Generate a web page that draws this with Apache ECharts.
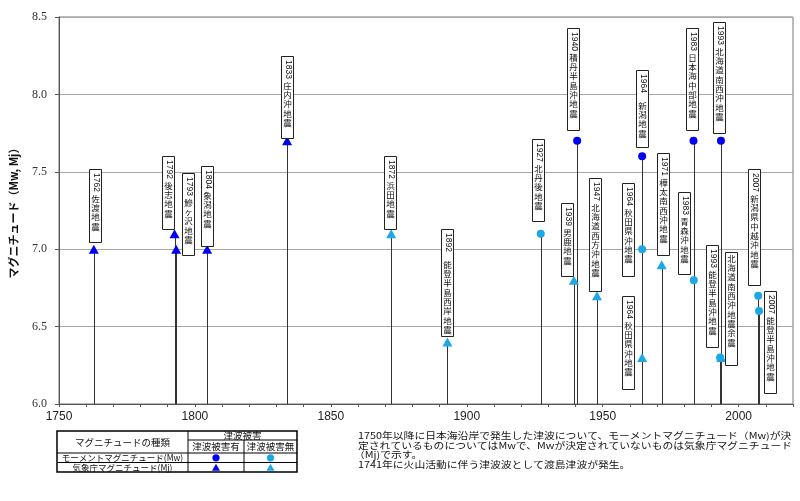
<!DOCTYPE html>
<html>
<head>
    <meta charset="utf-8">
    <title>日本海沿岸の津波とマグニチュード</title>
    <script src="https://cdn.jsdelivr.net/npm/echarts@6/dist/echarts.min.js"></script>
    <style>
        html, body {
            margin: 0;
            padding: 0;
            background: #fff;
        }

        #main {
            width: 800px;
            height: 501px;
        }
    </style>
</head>
<body>
<div id="main"></div>
<script type="text/javascript">
    // 発生年（発生日を年の小数で）
    const years = [1762.8, 1792.5, 1793.1, 1804.5, 1833.9, 1872.2, 1892.9, 1927.2, 1939.4, 1940.6, 1947.9,
        1964.5, 1964.5, 1964.5, 1971.7, 1983.4, 1983.5, 1993.5, 1993.2, 1993.6, 2007.5, 2007.2];
    // マグニチュード
    const mags = [7.0, 7.1, 7.0, 7.0, 7.7, 7.1, 6.4, 7.1, 6.8, 7.7, 6.7,
        7.6, 7.0, 6.3, 6.9, 7.7, 6.8, 7.7, 6.3, 6.3, 6.6, 6.7];
    // マグニチュードの種類
    const magType = ['Mj', 'Mj', 'Mj', 'Mj', 'Mj', 'Mj', 'Mj', 'Mw', 'Mj', 'Mw', 'Mj',
        'Mw', 'Mw', 'Mj', 'Mj', 'Mw', 'Mw', 'Mw', 'Mw', 'Mj', 'Mw', 'Mw'];
    // 津波被害 1:有 0:無
    const damage = [1, 1, 1, 1, 1, 0, 0, 0, 0, 1, 0,
        1, 0, 0, 0, 1, 0, 1, 0, 0, 0, 0];
    const names = ['1762 佐渡地震', '1792 後志地震', '1793 鰺ヶ沢地震', '1804 象潟地震', '1833 庄内沖地震',
        '1872 浜田地震', '1892能登半島西岸地震', '1927 北丹後地震', '1939 男鹿地震', '1940 積丹半島沖地震',
        '1947 北海道西方沖地震', '1964　新潟地震', '1964 秋田県沖地震', '1964 秋田県沖地震', '1971 樺太南西沖地震',
        '1983 日本海中部地震', '1983 青森沖地震', '1993 北海道南西沖地震', '1993 能登半島沖地震', '北海道南西沖地震余震',
        '2007 新潟県中越沖地震', '2007 能登半島沖地震'];

    // ラベル枠の置き場所（横ずれpx、枠の上端・下端はマグニチュード目盛で）
    const labelDx = [1, -7, 12, 0, 0, -1, 0, -3, -7, -4, -2, 0, -14, -14, 1, -2, -10, -2, -8, 10, -5, 12];
    const labelTop = [7.52, 7.60, 7.49, 7.54, 8.25, 7.60, 7.13, 7.71, 7.30, 8.43, 7.46,
        8.16, 7.43, 6.70, 7.62, 8.43, 7.37, 8.47, 7.03, 6.98, 7.52, 6.73];
    const labelBottom = [7.05, 7.13, 6.96, 7.02, 7.72, 7.13, 6.44, 7.18, 6.83, 7.77, 6.73,
        7.66, 6.83, 6.10, 6.96, 7.77, 6.84, 7.75, 6.37, 6.25, 6.77, 6.07];

    const DARK = '#0000f2';
    const LIGHT = '#1ca7e8';
    const JP = "'Noto Sans CJK JP', sans-serif";

    const myChart = echarts.init(document.getElementById('main'));

    const items = years.map((y, i) => [y, mags[i], i]);

    function pick(type, dmg) {
        return items.filter(d => magType[d[2]] === type && damage[d[2]] === dmg).map(d => [d[0], d[1]]);
    }

    function txt(text, x, y, size, opts) {
        return Object.assign({
            type: 'text', x: x, y: y,
            style: {
                text: text, fontSize: size, fontFamily: JP, fill: '#111',
                align: 'center', textAlign: 'center', verticalAlign: 'middle', textVerticalAlign: 'middle'
            }
        }, opts || {});
    }

    function renderStem(params, api) {
        const p = api.coord([api.value(0), api.value(1)]);
        const b = api.coord([api.value(0), 6.0]);
        const x = Math.round(p[0]) + 0.5;
        return {
            type: 'line',
            shape: {x1: x, y1: p[1], x2: x, y2: b[1]},
            style: {stroke: '#333', lineWidth: 1}
        };
    }

    function renderLabel(params, api) {
        const i = api.value(2);
        const p = api.coord([api.value(0), labelTop[i]]);
        const b = api.coord([api.value(0), labelBottom[i]]);
        const cx = Math.round(p[0] + labelDx[i]);
        const top = Math.round(p[1]);
        const w = 12;
        const children = [{
            type: 'rect',
            shape: {x: cx - w / 2 + 0.5, y: top + 0.5, width: w, height: Math.round(b[1] - p[1])},
            style: {fill: '#fff', stroke: '#222', lineWidth: 1}
        }];
        const m = names[i].match(/^(\d{4})([ 　]?)(.*)$/);
        let text = names[i];
        let start = top + 2;
        if (m) {
            children.push({
                type: 'text', x: cx + 1, y: top + 4, rotation: -Math.PI / 2,
                style: {
                    text: m[1], fontSize: 8.5, fontFamily: "'Liberation Sans', Arial", fill: '#111',
                    align: 'left', textAlign: 'left', verticalAlign: 'middle', textVerticalAlign: 'middle'
                }
            });
            text = m[3];
            start = top + (m[2] === ' ' ? 25 : 31);
        }
        // 一字ずつ縦に並べる
        text.split('').forEach((ch, k) => {
            children.push({
                type: 'text', x: cx + 0.5, y: start + k * 9.3 + 4.6,
                style: {
                    text: ch, fontSize: 8.5, fontFamily: JP, fill: '#111',
                    align: 'center', textAlign: 'center', verticalAlign: 'middle', textVerticalAlign: 'middle'
                }
            });
        });
        return {type: 'group', children: children};
    }

    // 凡例の表
    const T = 431, HM = 440, H = 453, R1 = 462.5, B = 472, L = 57, C1 = 188, C2 = 244, R = 297;
    const ln = (x1, y1, x2, y2, w) => ({
        type: 'line', shape: {x1: x1, y1: y1, x2: x2, y2: y2}, style: {stroke: '#000', lineWidth: w || 1}
    });
    const tri = (x, y, c) => ({
        type: 'polygon', shape: {points: [[x - 4, y + 3.5], [x + 4, y + 3.5], [x, y - 3.5]]}, style: {fill: c}
    });
    const dot = (x, y, c) => ({type: 'circle', shape: {cx: x, cy: y, r: 3.6}, style: {fill: c}});

    const notes = [
        ['1750年以降に日本海沿岸で発生した津波について、モーメントマグニチュード（Mw)が決', 358, 435.7],
        ['定されているものについてはMwで、Mwが決定されていないものは気象庁マグニチュード', 358, 445.7],
        ['（Mj)で示す。', 354, 454.8],
        ['1741年に火山活動に伴う津波波として渡島津波が発生。', 358, 464.5]
    ];

    const graphics = [
        {type: 'rect', shape: {x: L, y: T, width: R - L, height: B - T}, style: {fill: 'none', stroke: '#000', lineWidth: 1.5}},
        ln(C1, T, C1, B), ln(C2, HM, C2, B), ln(C1, HM, R, HM), ln(L, H, R, H, 1.2), ln(L, R1, R, R1),
        txt('マグニチュードの種類', (L + C1) / 2, 442, 9.5),
        txt('津波被害', (C1 + R) / 2, 435.7, 9.5),
        txt('津波被害有', (C1 + C2) / 2, 446.8, 9.5),
        txt('津波被害無', (C2 + R) / 2, 446.8, 9.5),
        txt('モーメントマグニチュード(Mw)', (L + C1) / 2, 457.8, 8.5),
        txt('気象庁マグニチュード(Mj)', (L + C1) / 2, 467.3, 8.5),
        dot((C1 + C2) / 2, 457.8, DARK), dot((C2 + R) / 2, 457.8, LIGHT),
        tri((C1 + C2) / 2, 467.3, DARK), tri((C2 + R) / 2, 467.3, LIGHT)
    ];
    notes.forEach(n => {
        graphics.push({
            type: 'text', x: n[1], y: n[2], scaleX: 1.2,
            style: {
                text: n[0], fontSize: 9, fontFamily: JP, fill: '#111',
                align: 'left', textAlign: 'left', verticalAlign: 'middle', textVerticalAlign: 'middle'
            }
        });
    });

    const option = {
        animation: false,
        backgroundColor: '#fff',
        grid: {
            left: 56, right: 7, top: 17, bottom: 97,
            show: true, borderColor: '#777', borderWidth: 1
        },
        xAxis: {
            type: 'value',
            min: 1750, max: 2020, interval: 50,
            axisLine: {lineStyle: {color: '#555'}},
            axisTick: {show: true, length: 3, lineStyle: {color: '#555'}},
            minorTick: {show: true, splitNumber: 5, length: 3, lineStyle: {color: '#555'}},
            splitLine: {show: false},
            axisLabel: {
                margin: 7, fontSize: 12, color: '#222', fontFamily: "'Liberation Sans', Arial",
                showMaxLabel: false,
                formatter: v => String(v)
            }
        },
        yAxis: {
            type: 'value',
            min: 6.0, max: 8.5, interval: 0.5,
            name: 'マグニチュード（Mw, Mj）',
            nameLocation: 'middle',
            nameGap: 40,
            nameTextStyle: {fontSize: 11, fontWeight: 'bold', color: '#111', fontFamily: JP},
            axisLine: {show: true, lineStyle: {color: '#555'}},
            axisTick: {show: true, length: 4, lineStyle: {color: '#555'}},
            splitLine: {show: true, lineStyle: {color: '#a8a8a8'}},
            axisLabel: {
                margin: 12, fontSize: 12, color: '#333', fontFamily: "'Liberation Serif', serif",
                formatter: v => v.toFixed(1)
            }
        },
        series: [
            {
                type: 'custom', name: 'stem', renderItem: renderStem, data: items,
                encode: {x: 0, y: 1}, clip: false, z: 2, silent: true
            },
            {
                type: 'scatter', name: 'Mw 被害有', symbol: 'circle', symbolSize: 8,
                itemStyle: {color: DARK, opacity: 1}, data: pick('Mw', 1), z: 3
            },
            {
                type: 'scatter', name: 'Mw 被害無', symbol: 'circle', symbolSize: 8,
                itemStyle: {color: LIGHT, opacity: 1}, data: pick('Mw', 0), z: 3
            },
            {
                type: 'scatter', name: 'Mj 被害有', symbol: 'triangle', symbolSize: [10, 9],
                itemStyle: {color: DARK, opacity: 1}, data: pick('Mj', 1), z: 3
            },
            {
                type: 'scatter', name: 'Mj 被害無', symbol: 'triangle', symbolSize: [10, 9],
                itemStyle: {color: LIGHT, opacity: 1}, data: pick('Mj', 0), z: 3
            },
            {
                type: 'custom', name: 'label', renderItem: renderLabel, data: items,
                encode: {x: 0, y: 1}, clip: false, z: 4, silent: true
            }
        ],
        graphic: graphics
    };

    myChart.setOption(option);
</script>
</body>
</html>
